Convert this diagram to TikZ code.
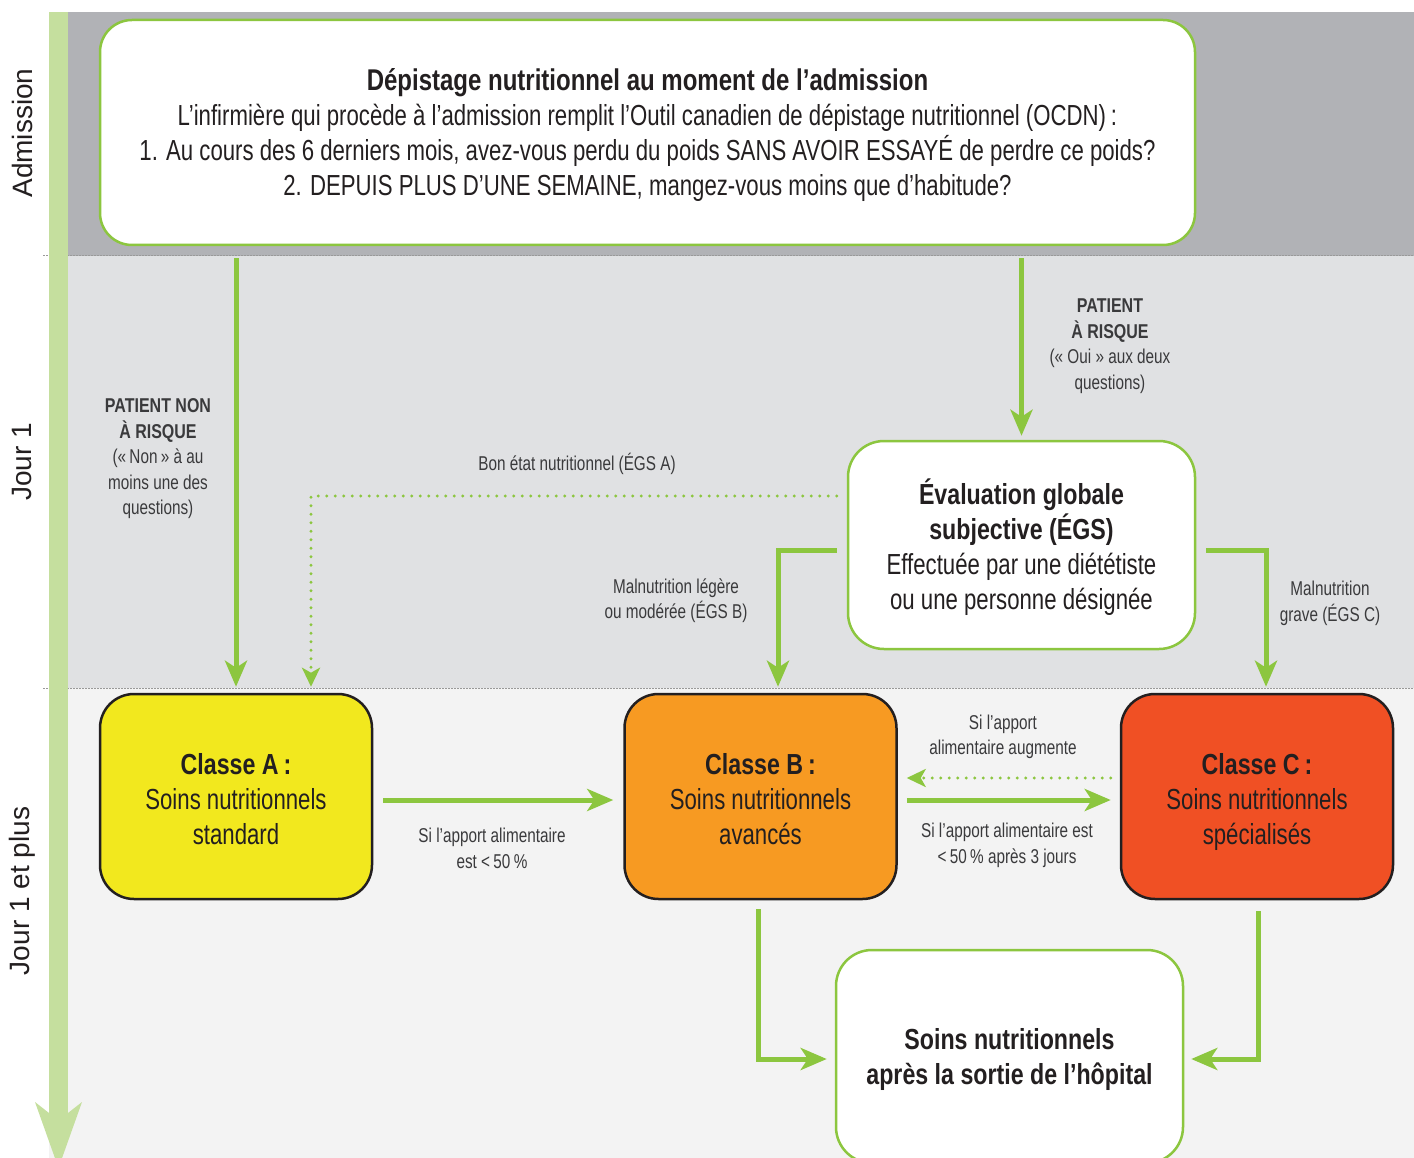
\documentclass[tikz,border=0pt]{standalone}
\usepackage{fontspec}
\setmainfont{Liberation Sans}[FakeStretch=0.765, BoldFeatures={FakeStretch=0.80}]
\newfontfamily\vfont{Liberation Sans}
\usetikzlibrary{arrows.meta,calc}
\definecolor{gline}{HTML}{8CC63F}
\definecolor{gbar}{HTML}{C5DF9E}
\definecolor{bandA}{HTML}{B1B2B6}
\definecolor{bandB}{HTML}{E0E1E3}
\definecolor{bandC}{HTML}{F3F3F3}
\definecolor{yel}{HTML}{F2E81E}
\definecolor{ora}{HTML}{F79A22}
\definecolor{red}{HTML}{F05024}
\definecolor{txt}{HTML}{231F20}
\definecolor{lbl}{HTML}{3A3A3C}
\tikzset{
  bigtxt/.style={font=\fontsize{29}{35}\selectfont, align=center, text=txt, inner sep=0pt},
  smalltxt/.style={font=\fontsize{20}{25.5}\selectfont, align=center, text=lbl},
  gbox/.style={draw=gline, line width=2.5pt, fill=white, rounded corners=32pt, inner sep=0pt},
  cbox/.style={draw=txt, line width=2.5pt, rounded corners=34pt, inner sep=0pt, minimum width=272pt, minimum height=205pt},
  garrow/.style={draw=gline, line width=5pt, -{Stealth[length=26pt,width=22pt,inset=7pt]}},
  darrow/.style={draw=gline, line width=3.2pt, line cap=round, dash pattern=on 0pt off 8.5pt, -{Stealth[length=19pt,width=18pt,inset=5pt]}},
  sep/.style={draw=gray!80, line width=1pt, dash pattern=on 1.5pt off 1.5pt},
  vlab/.style={font=\vfont\fontsize{28}{30}\selectfont, text=txt, rotate=90}
}
\begin{document}
\begin{tikzpicture}[x=1pt,y=-1pt]
\useasboundingbox (0,0) rectangle (1414,1158);
\clip (0,0) rectangle (1414,1158);
\fill[white] (0,0) rectangle (1414,1158);
% bands
\fill[bandA] (49,12) rectangle (1414,256);
\fill[bandB] (49,256) rectangle (1414,688);
\fill[bandC] (49,688) rectangle (1414,1158);
\draw[sep] (43,256) -- (1414,256);
\draw[sep] (43,688) -- (1414,688);
% timeline bar
\fill[gbar] (49,12) rectangle (68,1114);
\fill[gbar] (35,1102) -- (49,1113) -- (68,1113) -- (82,1102) -- (58.5,1168) -- cycle;
\node[vlab] (vadm) at (22,133) {Admission};
\node[vlab] (vj1) at (22,462) {Jour 1};
\node[vlab] (vj1p) at (22,891) {Jour 1 et plus};

% boxes
\node[gbox, minimum width=1095pt, minimum height=225pt] (top) at (647.5,132.5) {};
\node[bigtxt] (toptxt) at ([yshift=-3pt]top.center)
 {{\fontsize{30}{35}\selectfont\textbf{Dépistage nutritionnel au moment de l’admission}}\\
 L’infirmière qui procède à l’admission remplit l’Outil canadien de dépistage nutritionnel (OCDN)\,:\\
 1. Au cours des 6 derniers mois, avez-vous perdu du poids SANS AVOIR ESSAYÉ de perdre ce poids?\\
 2. DEPUIS PLUS D’UNE SEMAINE, mangez-vous moins que d’habitude?};
\node[gbox, minimum width=347pt, minimum height=208pt, rounded corners=36pt] (egs) at (1021.5,545) {};
\node[bigtxt] (egstxt) at ([yshift=-2.5pt]egs.center)
 {\textbf{Évaluation globale}\\\textbf{subjective (ÉGS)}\\Effectuée par une diététiste\\ou une personne désignée};
\node[cbox, fill=yel] (A) at (236,796.5) {};
\node[bigtxt] (Atxt) at ([yshift=-2.5pt]A.center) {\textbf{Classe A\,:}\\Soins nutritionnels\\standard};
\node[cbox, fill=ora] (B) at (760.5,796.5) {};
\node[bigtxt] (Btxt) at ([yshift=-2.5pt]B.center) {\textbf{Classe B\,:}\\Soins nutritionnels\\avancés};
\node[cbox, fill=red] (C) at (1257,796.5) {};
\node[bigtxt] (Ctxt) at (C.center |- Btxt.north) [anchor=north] {\textbf{Classe C\,:}\\Soins nutritionnels\\spécialisés};
\node[gbox, minimum width=347pt, minimum height=213pt, rounded corners=36pt] (bot) at (1009.5,1056.5) {};
\node[bigtxt] (bottxt) at ([yshift=-3pt]bot.center)
 {\textbf{Soins nutritionnels}\\\textbf{après la sortie de l’hôpital}};

% arrows
\draw[garrow, shorten <=12pt, shorten >=6pt] (top.south -| A.north) -- (A.north);
\draw[garrow, shorten <=12pt, shorten >=4pt] (top.south -| egs.north) -- (egs.north);
\coordinate (dc) at (311,496);
\draw[darrow, shorten <=10pt, shorten >=6pt] (egs.west |- dc) -- (dc) -- (dc |- A.north);
\draw[garrow, shorten <=10pt, shorten >=6pt] ([yshift=-5pt]egs.west) -| ([xshift=17.5pt]B.north);
\draw[garrow, shorten <=10pt, shorten >=6pt] ([yshift=-5pt]egs.east) -| ([xshift=9pt]C.north);
\draw[garrow, shorten <=10pt, shorten >=10pt] ([yshift=-3.5pt]A.east) -- ([yshift=-3.5pt]B.west);
\draw[garrow, shorten <=9pt, shorten >=9pt] ([yshift=-3.5pt]B.east) -- ([yshift=-3.5pt]C.west);
\draw[darrow, shorten <=9pt, shorten >=9pt] ([yshift=18.5pt]C.west) -- ([yshift=18.5pt]B.east);
\draw[garrow, shorten <=9pt, shorten >=8pt] ([xshift=-2.5pt]B.south) |- ([yshift=-2.5pt]bot.west);
\draw[garrow, shorten <=11pt, shorten >=7pt] ([xshift=1pt]C.south) |- ([yshift=-2.5pt]bot.east);

% labels
\node[smalltxt] (lnon) at (158,459) {\textbf{PATIENT NON}\\\textbf{À RISQUE}\\(«\,Non\,» à au\\moins une des\\questions)};
\node[smalltxt] (lrisk) at (1110,346) {\textbf{PATIENT}\\\textbf{À RISQUE}\\(« Oui » aux deux\\questions)};
\node[smalltxt] (lbon) at (577,463.5) {Bon état nutritionnel (ÉGS A)};
\node[smalltxt] (lleg) at (676,600.5) {Malnutrition légère\\ou modérée (ÉGS B)};
\node[smalltxt] (lgrave) at (1330,603.5) {Malnutrition\\grave (ÉGS C)};
\node[smalltxt] (lab) at (492,848.5) {Si l’apport alimentaire\\est <\,50\,\%};
\node[smalltxt] (laug) at (1003,737) {Si l’apport\\alimentaire augmente};
\node[smalltxt] (lbc) at (1007,845.5) {Si l’apport alimentaire est\\<\,50\,\% après 3 jours};
\end{tikzpicture}
\end{document}
